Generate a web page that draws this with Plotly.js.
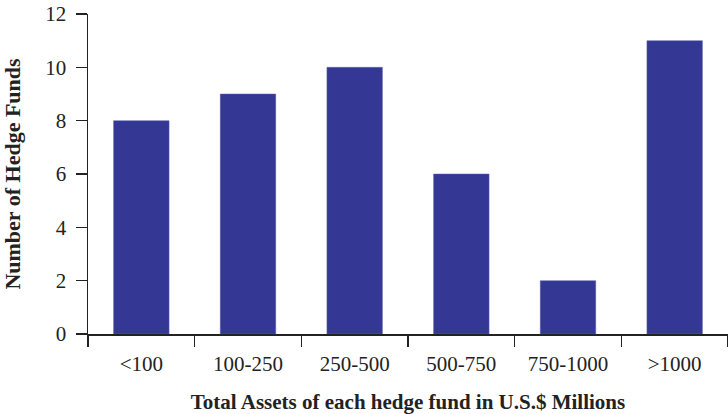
<!DOCTYPE html>
<html>
<head>
<meta charset="utf-8">
<script src="https://cdn.plot.ly/plotly-3.0.1.min.js"></script>
<style>html,body{margin:0;padding:0;background:#fff}#chart{width:728px;height:414px}</style>
</head>
<body>
<div id="chart"></div>
<script>
const categories = ["<100", "100-250", "250-500", "500-750", "750-1000", ">1000"];
const counts = [8, 9, 10, 6, 2, 11];
const yTickVals = [0, 2, 4, 6, 8, 10, 12];

const trace = {
  type: "bar",
  x: categories,
  y: counts,
  width: 0.52,
  marker: { color: "#343894", line: { color: "#5a5eb0", width: 0.5 } },
  hoverinfo: "x+y"
};

const layout = {
  width: 728,
  height: 414,
  margin: { l: 88, r: 0, t: 14, b: 80 },
  paper_bgcolor: "#ffffff",
  plot_bgcolor: "#ffffff",
  font: { family: "Liberation Serif, Times New Roman, serif", color: "#222222", size: 21 },
  showlegend: false,
  xaxis: {
    type: "category",
    range: [-0.5, 5.5],
    showline: true,
    linecolor: "#222222",
    linewidth: 1.5,
    ticks: "outside",
    tickson: "boundaries",
    ticklen: 11,
    tickwidth: 1.5,
    tickcolor: "#222222",
    showgrid: false,
    zeroline: false,
    tickfont: { size: 21 },
    ticklabelstandoff: 10,
    title: { text: "<b>Total Assets of each hedge fund in U.S.$ Millions</b>", font: { size: 21 }, standoff: 21 }
  },
  yaxis: {
    range: [0, 12],
    tickvals: yTickVals,
    showline: true,
    linecolor: "#222222",
    linewidth: 1.5,
    ticks: "outside",
    ticklen: 11,
    tickwidth: 1.5,
    tickcolor: "#222222",
    showgrid: false,
    zeroline: false,
    tickfont: { size: 21 },
    ticklabelstandoff: 5,
    title: { text: "<b>Number of Hedge Funds</b>", font: { size: 22 }, standoff: 20 }
  }
};

Plotly.newPlot("chart", [trace], layout, { displayModeBar: false, staticPlot: true });
</script>
</body>
</html>
